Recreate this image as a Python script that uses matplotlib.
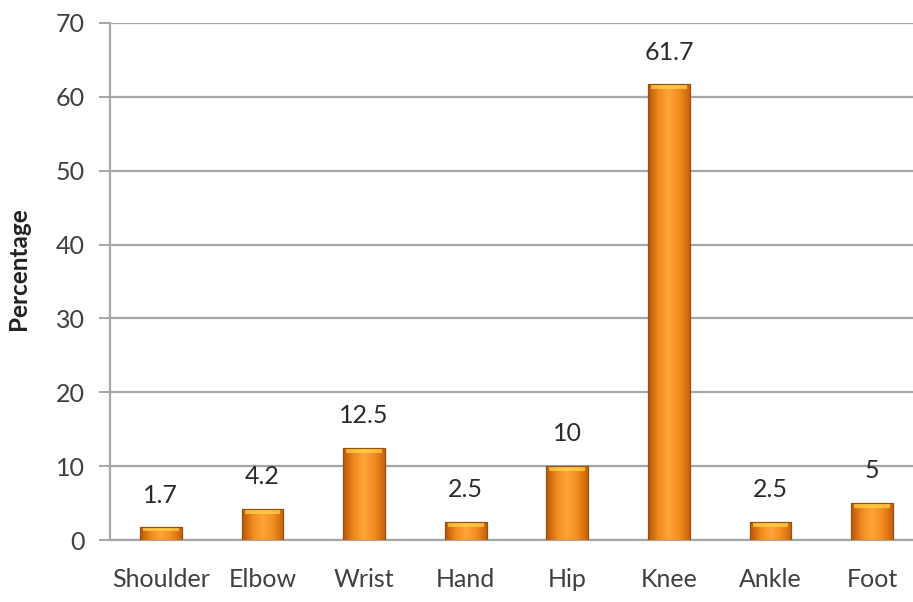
import numpy as np
import matplotlib
matplotlib.use("Agg")
import matplotlib.pyplot as plt
from matplotlib.colors import LinearSegmentedColormap

# ==========================
# data
# ==========================
joints = ["Shoulder", "Elbow", "Wrist", "Hand", "Hip", "Knee", "Ankle", "Foot"]
percent = [1.7, 4.2, 12.5, 2.5, 10, 61.7, 2.5, 5]
value_labels = ["1.7", "4.2", "12.5", "2.5", "10", "61.7", "2.5", "5"]

# ==========================
# style
# ==========================
plt.rcParams["font.family"] = ["Lato", "DejaVu Sans"]
text_gray = "#3f3f3f"
grid_gray = "#a6a6a6"

bar_cmap = LinearSegmentedColormap.from_list(
    "orange_cyl", ["#b8560c", "#f08a1e", "#ffa43c", "#f58d1f", "#c8620e"])

fig = plt.figure(figsize=(9.13, 6.02), dpi=100)
ax = fig.add_axes([110 / 913, 62 / 602, 813 / 913, 517 / 602])

x = np.arange(len(joints))
width = 0.41
bars = ax.bar(x, percent, width=width, color="#f28c1e",
              edgecolor="#9a4e0c", linewidth=0.8, zorder=3)

# cylinder-like shading inside every bar
grad = np.linspace(0, 1, 64).reshape(1, -1)
for rect, v in zip(bars, percent):
    x0 = rect.get_x()
    im = ax.imshow(grad, cmap=bar_cmap, aspect="auto",
                   extent=[x0, x0 + width, 0, v], zorder=3.5)
    im.set_clip_path(rect)
    # light top cap
    cap = min(0.7, v * 0.3)
    ax.bar(rect.get_x() + width / 2, cap, bottom=v - cap, width=width * 0.86,
           color="#ffd84a", alpha=0.7, linewidth=0, zorder=4)
    ax.bar(rect.get_x() + width / 2, v, width=width, fill=False,
           edgecolor="#9a4e0c", linewidth=0.8, zorder=5)

for xi, v, lab in zip(x, percent, value_labels):
    ax.text(xi, v + 2.8, lab, ha="center", va="bottom",
            fontsize=18, color="#2b2b2b")

ax.set_xlim(-0.5, len(joints) - 0.5)
ax.set_ylim(0, 70)
ax.set_yticks(np.arange(0, 71, 10))
ax.set_xticks(x)
ax.set_xticklabels(joints)

ax.yaxis.grid(True, color=grid_gray, linewidth=1.6, zorder=0)
ax.set_axisbelow(True)
for side in ["top", "right"]:
    ax.spines[side].set_visible(False)
ax.spines["left"].set_color(grid_gray)
ax.spines["left"].set_linewidth(1.6)
ax.spines["bottom"].set_color(grid_gray)
ax.spines["bottom"].set_linewidth(1.6)

ax.tick_params(axis="y", length=8, width=1.4, color=grid_gray,
               labelsize=18, labelcolor=text_gray, pad=10)
ax.tick_params(axis="x", length=0, labelsize=18, labelcolor=text_gray, pad=20)

ax.set_ylabel("Percentage", fontsize=17.5, fontweight="bold", color="#222222")
ax.yaxis.set_label_coords(-0.099, 0.524)

plt.savefig("out.png", dpi=100)
plt.close()
